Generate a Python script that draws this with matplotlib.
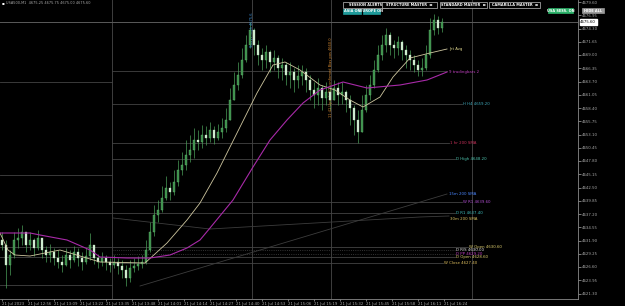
import numpy as np
import matplotlib
matplotlib.use('Agg')
import matplotlib.pyplot as plt
from matplotlib.patches import Rectangle

# M1 candles (price)
first_open = 4632.0
closes = [4631.0, 4627.0, 4629.0, 4632.0, 4632.4, 4633.6, 4631.0, 4632.0, 4630.4, 4632.4,
          4630.0, 4629.0, 4629.6, 4628.4, 4627.6, 4627.0, 4629.0, 4628.0, 4629.6, 4628.4,
          4627.6, 4628.8, 4631.0, 4628.4, 4627.6, 4628.4, 4627.6, 4627.0, 4627.6, 4626.8,
          4626.0, 4624.4, 4626.4, 4626.8, 4627.2, 4627.6, 4630.0, 4633.6, 4637.0, 4638.0,
          4640.4, 4642.4, 4641.6, 4643.6, 4646.0, 4647.0, 4649.0, 4650.0, 4652.0, 4651.6,
          4653.0, 4652.4, 4654.0, 4652.4, 4653.6, 4654.4, 4656.0, 4660.0, 4663.0, 4665.0,
          4668.0, 4671.0, 4674.0, 4671.0, 4669.0, 4668.0, 4669.6, 4667.6, 4668.4, 4666.4,
          4667.0, 4665.0, 4665.6, 4664.0, 4664.8, 4665.6, 4664.0, 4662.0, 4661.0, 4662.4,
          4660.4, 4661.6, 4660.0, 4662.4, 4661.0, 4661.6, 4660.0, 4658.4, 4656.0, 4653.6,
          4658.0, 4661.0, 4663.0, 4666.0, 4669.0, 4671.0, 4673.0, 4671.0, 4670.4, 4671.6,
          4670.0, 4669.0, 4668.0, 4667.0, 4666.0, 4666.4, 4669.0, 4674.0, 4676.0, 4674.4,
          4675.6]
highs = [4633.6, 4632.0, 4630.0, 4633.6, 4634.4, 4635.0, 4633.0, 4633.6, 4632.4, 4634.0,
         4632.0, 4630.8, 4631.2, 4630.4, 4630.0, 4629.0, 4630.4, 4630.0, 4630.8, 4630.4,
         4629.6, 4630.4, 4633.4, 4630.8, 4629.2, 4629.6, 4629.0, 4628.4, 4629.0, 4628.4,
         4628.0, 4627.0, 4628.0, 4628.4, 4628.8, 4629.0, 4632.0, 4635.6, 4639.0, 4640.0,
         4642.8, 4644.8, 4643.6, 4646.0, 4648.0, 4649.6, 4652.0, 4653.0, 4654.4, 4654.0,
         4655.0, 4654.8, 4655.6, 4654.8, 4655.2, 4656.4, 4658.4, 4662.4, 4665.6, 4667.6,
         4670.4, 4673.0, 4675.6, 4674.4, 4672.0, 4670.4, 4671.0, 4670.0, 4670.0, 4669.0,
         4668.4, 4667.6, 4667.6, 4666.4, 4667.0, 4667.0, 4666.4, 4665.0, 4663.6, 4664.4,
         4663.0, 4663.6, 4663.0, 4664.0, 4663.6, 4663.6, 4662.0, 4661.0, 4659.0, 4658.0,
         4661.0, 4663.0, 4665.0, 4668.0, 4671.0, 4673.0, 4674.4, 4673.6, 4672.0, 4672.8,
         4672.0, 4671.0, 4670.0, 4669.0, 4668.0, 4668.4, 4671.0, 4676.4, 4677.2, 4676.8,
         4676.4]
lows = [4630.0, 4622.4, 4625.0, 4628.4, 4630.4, 4631.0, 4629.6, 4630.0, 4628.8, 4630.0,
        4628.4, 4627.6, 4627.6, 4627.0, 4626.4, 4625.6, 4626.8, 4626.4, 4627.6, 4626.8,
        4626.0, 4627.2, 4628.0, 4627.2, 4626.4, 4626.8, 4626.0, 4625.6, 4626.4, 4625.2,
        4624.4, 4622.8, 4623.6, 4625.6, 4626.0, 4626.4, 4627.2, 4629.6, 4632.8, 4635.6,
        4637.6, 4640.0, 4640.0, 4641.0, 4642.8, 4645.0, 4646.0, 4647.6, 4648.4, 4650.0,
        4650.4, 4651.0, 4651.6, 4651.2, 4652.0, 4652.4, 4653.6, 4656.4, 4660.0, 4662.0,
        4664.4, 4667.6, 4670.4, 4669.0, 4667.0, 4666.0, 4666.4, 4665.6, 4666.0, 4664.4,
        4664.0, 4663.0, 4662.4, 4661.6, 4662.4, 4663.0, 4661.6, 4660.0, 4658.4, 4659.0,
        4658.0, 4659.0, 4658.0, 4660.0, 4659.0, 4659.2, 4657.6, 4655.0, 4653.0, 4651.4,
        4654.0, 4657.6, 4660.0, 4662.4, 4665.6, 4668.0, 4669.6, 4669.0, 4668.4, 4669.0,
        4668.0, 4666.4, 4666.0, 4665.6, 4664.8, 4664.8, 4666.0, 4668.4, 4673.0, 4673.2,
        4673.6]

# moving averages (bar index, price)
fast_ma_x = [-0.5, 1.5, 3.25, 7, 14.5, 19.5, 24.5, 35.75, 41.25, 46.25, 49.5, 53.75, 59.5,
             63.75, 67.75, 70.75, 74.5, 79.5, 83.25, 87, 90.25, 94.5, 97.75, 102, 107, 111.25]
fast_ma_y = [4633.4, 4630.0, 4629.0, 4628.8, 4630.0, 4628.8, 4627.6, 4627.4, 4631.4, 4636.0,
             4639.4, 4645.4, 4654.6, 4661.4, 4667.0, 4667.6, 4666.0, 4663.0, 4662.0, 4660.0,
             4658.6, 4660.6, 4664.6, 4668.4, 4669.4, 4670.2]
slow_ma_x = [-0.5, 7, 9.5, 16.25, 22, 24.5, 31.25, 37, 42, 46.25, 49.5, 52, 57.75, 62.75,
             67, 71.25, 75.25, 79.5, 85.25, 91.25, 99.5, 106.25, 111.25]
slow_ma_y = [4633.4, 4633.4, 4633.0, 4632.0, 4630.0, 4628.6, 4628.4, 4628.4, 4629.0, 4630.4,
             4632.0, 4634.4, 4640.0, 4646.6, 4652.0, 4656.0, 4659.4, 4662.0, 4663.6, 4662.4,
             4663.0, 4664.0, 4665.6]

# horizontal levels: price, start bar, end bar, label, label colour, line style
level_price = [4663.6, 4665.8, 4659.2, 4651.4, 4648.2, 4645.0, 4639.6, 4637.4, 4630.6,
               4630.0, 4629.2, 4628.6, 4627.4, 4623.0]
level_start = [-0.5, 27.5, 27.5, 27.5, 27.5, -0.5, 27.5, -0.5, -0.5, 27.5, 27.5, -0.5, 27.5, -0.5]
level_end = [27.5, 111.25, 115, 111.75, 113.25, 27.5, 115, 113.25, 116.5, 113.25, 113.25,
             113.25, 110.25, 27.5]
level_name = ['', '', 'H H4', '1 hr 200 SMA', 'D High', '', 'W R1', 'D R1', 'W Open',
              'D R/S', 'D PP', 'D Open', 'W Close', '']
level_color = ['', '', '#3fa7b8', '#c8305a', '#4fc6b0', '', '#b04fd0', '#3fc0c0', '#e0d070',
               '#e8e8e8', '#c040c0', '#e0d070', '#e0c060', '']
level_style = ['-', '-', '-', '-', '-', '-', '-', '-', '-', ':', ':', '-', '-', '-']

# sloped 200 SMA lines
sma15_x = [34.5, 111.25]
sma15_y = [4622.8, 4641.2]
sma30_x = [27.75, 52, 104.5, 111.75]
sma30_y = [4636.4, 4634.2, 4636.6, 4636.8]

session_breaks = [27.5, 62.5, 82.25, 117.5]

time_pos = [0, 6.5, 13, 19.5, 26, 32.5, 39, 45.5, 52, 58.5, 65, 71.5, 78, 84.5, 91, 97.5, 104, 110.5]
time_labels = ['21 Jul 2023', '21 Jul 12:56', '21 Jul 13:09', '21 Jul 13:22', '21 Jul 13:35',
               '21 Jul 13:48', '21 Jul 14:01', '21 Jul 14:14', '21 Jul 14:27', '21 Jul 14:40',
               '21 Jul 14:53', '21 Jul 15:06', '21 Jul 15:19', '21 Jul 15:32', '21 Jul 15:45',
               '21 Jul 15:58', '21 Jul 16:11', '21 Jul 16:24']
price_ticks = [4679.60, 4676.95, 4674.30, 4671.65, 4669.00, 4666.35, 4663.70, 4661.05, 4658.40,
               4655.75, 4653.10, 4650.45, 4647.80, 4645.15, 4642.50, 4639.85, 4637.20, 4634.55,
               4631.90, 4629.25, 4626.60, 4623.95, 4621.30]

W, H = 625, 306
fig = plt.figure(figsize=(W / 100, H / 100), dpi=100, facecolor='black')
ax = fig.add_axes([0, 7 / H, 578 / W, 299 / H], facecolor='black')
ax.set_xlim(-0.5, 144)
ax.set_ylim(4680 - 0.2 * 299, 4680)

def fx(x):
    return x / W

def fy(y):
    return 1 - y / H

# structure lines
for xb in session_breaks:
    ax.axvline(xb, color='#3e3e3e', lw=0.7, zorder=1)

ax.axhline(closes[-1], color='#5a5a5a', lw=0.7, zorder=1)
for p, x0, x1, st in zip(level_price, level_start, level_end, level_style):
    ax.plot([x0, x1], [p, p], color='#444444', lw=0.6, ls=st, zorder=1)
ax.plot(sma15_x, sma15_y, color='#3c3c3c', lw=0.6, zorder=1)
ax.plot(sma30_x, sma30_y, color='#3c3c3c', lw=0.6, zorder=1)

for p, x1, name, c in zip(level_price, level_end, level_name, level_color):
    if name:
        ax.text(x1 + 0.3, p, f'{name} {p:.2f}' if 'SMA' not in name else name,
                color=c, fontsize=2.8, va='center', ha='left', zorder=5)
ax.text(sma15_x[-1] + 0.5, sma15_y[-1], '15m 200 SMA', color='#4a86ff', fontsize=2.8,
        va='center', ha='left')
ax.text(sma30_x[-1] + 0.2, sma30_y[-1] - 0.5, '30m 200 SMA', color='#d8c060', fontsize=2.8,
        va='center', ha='left')

# candles
closes_a = np.array(closes)
opens = np.r_[first_open, closes_a[:-1]]
idx = np.arange(len(closes))
hi = np.maximum(np.array(highs), np.maximum(opens, closes_a))
lo = np.minimum(np.array(lows), np.minimum(opens, closes_a))
up = closes_a >= opens
ax.vlines(idx, lo, hi, color='#4a9e58', lw=0.5, zorder=3)
ax.bar(idx[up], (closes_a - opens)[up], bottom=opens[up], width=0.38,
       color='#3a8a48', edgecolor='#6cc47a', lw=0.25, zorder=4)
ax.bar(idx[~up], (closes_a - opens)[~up], bottom=opens[~up], width=0.38,
       color='#d6efd6', edgecolor='#b8e2b8', lw=0.25, zorder=4)

# moving averages
ax.plot(fast_ma_x, fast_ma_y, color='#cfc7a0', lw=0.6, zorder=4)
ax.plot(slow_ma_x, slow_ma_y, color='#a82aa8', lw=0.8, zorder=4)
ax.text(fast_ma_x[-1] + 0.5, fast_ma_y[-1], 'Jet Avg', color='#e0d890', fontsize=2.8, va='center')
ax.text(slow_ma_x[-1] + 0.5, slow_ma_y[-1], '9 tradingbars 2', color='#c040c0', fontsize=2.8,
        va='center')

# vertical event texts
ax.text(62.5, 4677.5, 'Todays High 4675.6', rotation=90, color='#3c8fd8', fontsize=2.6,
        ha='center', va='top')
ax.text(82.25, 4672.5, '11:41 Upside BC confirmed Bias pos 4660.0', rotation=90,
        color='#d88a30', fontsize=2.6, ha='center', va='top')

# axes styling
ax.yaxis.tick_right()
ax.set_yticks(price_ticks)
ax.set_yticklabels([f'{v:.2f}' for v in price_ticks])
ax.set_xticks(time_pos)
ax.set_xticklabels(time_labels, ha='left')
ax.tick_params(axis='y', colors='#a8a8a8', labelsize=2.8, length=2, width=0.5, pad=1)
ax.tick_params(axis='x', colors='#a8a8a8', labelsize=2.8, length=1.5, width=0.5, pad=0.5)
for s in ['top', 'left']:
    ax.spines[s].set_visible(False)
for s in ['right', 'bottom']:
    ax.spines[s].set_color('#8a8a8a')
    ax.spines[s].set_linewidth(0.6)

# current price tag
ax.annotate(f'{closes[-1]:.2f}', xy=(1.0, closes[-1]), xycoords=('axes fraction', 'data'),
            xytext=(1.5, 0), textcoords='offset points', fontsize=2.8, color='black',
            va='center', ha='left',
            bbox=dict(boxstyle='square,pad=0.15', fc='white', ec='white'))

# top-left info
fig.text(fx(2), fy(3), '\u25aa', color='white', fontsize=3, va='center')
fig.text(fx(6), fy(3), 'USA500,M1  4675.25 4675.75 4675.00 4675.60', color='#a8a8a8',
         fontsize=2.5, va='center')

# panel buttons
def button(x0, x1, y0, y1, text, fc, ec, tc):
    fig.add_artist(Rectangle((fx(x0), fy(y1)), fx(x1 - x0), (y1 - y0) / H,
                             transform=fig.transFigure, fc=fc, ec=ec, lw=0.5))
    fig.text(fx((x0 + x1) / 2), fy((y0 + y1) / 2), text, color=tc, fontsize=2.5,
             ha='center', va='center', weight='bold')

button(343, 388, 2, 8, 'SESSION ALERTS', 'black', '#c0c0c0', 'white')
button(343, 361, 9, 14, 'ASIA ON', '#1e9a9a', '#1e9a9a', 'white')
button(363, 380, 9, 14, 'EUROPE ON', '#1e9a9a', '#1e9a9a', 'white')
button(382, 437, 2, 8, 'STRUCTURE MASTER  \u229e', 'black', '#c0c0c0', 'white')
button(440, 487, 2, 8, 'STANDARD MASTER  \u229e', 'black', '#c0c0c0', 'white')
button(489, 540, 2, 8, 'CAMARILLA MASTER  \u229e', 'black', '#c0c0c0', 'white')
button(548, 573, 8, 13, 'USA SESS. ON', '#2db36b', '#2db36b', 'white')
button(582, 604, 8, 13, 'HIDE ALL', '#9a9a9a', '#9a9a9a', 'white')

fig.savefig('out.png', dpi=100, facecolor='black')
